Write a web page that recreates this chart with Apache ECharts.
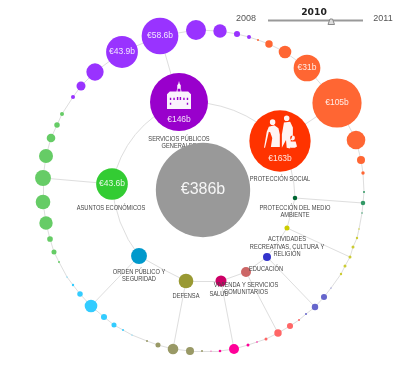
<!DOCTYPE html>
<html><head><meta charset="utf-8">
<style>html,body{margin:0;padding:0;background:#fff}#c{width:400px;height:370px}</style>
<script src="https://cdn.jsdelivr.net/npm/echarts@6/dist/echarts.min.js"></script>
</head><body><div id="c"></div>
<script>
// Outer ring, clockwise from the top-left: x, y on the chart's plane, and spending in € billions
const ringX = [160,196,220,237,249, 258,269,285,307,337,356,361,363, 364,363,362, 359,357,353,350,345,341, 331,324,315,306, 299,290,278,266, 257,248,234,220,211, 202,190,173,158,147, 132,123,114,104,91,80,73,67, 59,54,50,46,43,43,46,51,57,62, 73,81,95,122];
const ringY = [36,30,31,34,37, 40,44,52,68,103,140,160,173, 192,203,213, 229,238,247,257,266,274, 288,297,307,314, 320,326,333,339, 342,345,349,351,351, 351,351,349,345,341, 335,330,325,317,306,294,285,277, 262,252,239,223,202,178,156,138,125,114, 97,86,72,52];
const ringValues = [58.6,17.4,7.8,1.6,0.7, 0.17,2.4,6.9,31,105,15,2.8,0.5, 0.17,0.9,0.1, 0.1,0.25,0.4,0.4,0.4,0.25, 0.06,1.6,1.8,0.17, 0.17,1.6,2.4,0.4, 0.1,0.4,4.3,0.3,0.05, 0.17,2.8,4.9,1.1,0.17, 0.05,0.17,1.1,1.6,6.9,1.3,0.25,0.06, 0.17,1.1,1.4,7.8,9.3,11,8.5,3.2,1.3,0.7, 0.7,3.5,13,43.9];
const ringLabels = {0:'€58.6b',61:'€43.9b',8:'€31b',9:'€105b'};
const ringGroupSizes = [5,8,3,6,4,4,5,5,8,10,4];
const ringGroupColors = ['#9933ff','#ff6633','#339966','#cccc33','#6666cc','#ff6666','#ff0099','#999966','#33ccff','#66cc66','#9933ff'];

// Inner circle of categories
const innerNames = ['SERVICIOS PÚBLICOS\nGENERALES','PROTECCIÓN SOCIAL','PROTECCIÓN DEL MEDIO\nAMBIENTE','ACTIVIDADES\nRECREATIVAS, CULTURA Y\nRELIGIÓN','EDUCACIÓN','VIVIENDA Y SERVICIOS\nCOMUNITARIOS','SALUD','DEFENSA','ORDEN PÚBLICO Y\nSEGURIDAD','ASUNTOS ECONÓMICOS'];
const innerX = [179,280,295,287,267,246,221,186,139,112];
const innerY = [102,141,198,228,257,272,281,281,256,184];
const innerValues = [146,163,0.9,1.1,2.8,4.3,5.3,9.3,11,43.6];
const innerColors = ['#9900cc','#ff3300','#006633','#cccc00','#3333cc','#cc6666','#cc0066','#999933','#0099cc','#33cc33'];
const innerLabels = ['€146b','€163b','','','','','','','','€43.6b'];
// index of the ring bubble each category connects to
const innerRingLink = [0,9,14,19,24,28,32,37,44,53];
const labelX = [179,280,295,287,266,246,219,186,139,111];
const labelY = [142.5,179,211.5,246.5,269,288.5,294,296,275.5,208];

const totalName = 'TOTAL', totalX = 203, totalY = 190, totalValue = 386, totalLabel = '€386b';
const yearsLeft = '2008', yearCurrent = '2010', yearsRight = '2011';

const sizeOf = v => 4.8 * Math.sqrt(v);
const ringColorAt = i => { let n = 0; for (let g = 0; g < ringGroupSizes.length; g++) { n += ringGroupSizes[g]; if (i < n) return ringGroupColors[g]; } };

const nodes = [];
ringX.forEach((x,i) => nodes.push({value:[x,ringY[i]], symbolSize:sizeOf(ringValues[i]), itemStyle:{color:ringColorAt(i)},
  label:{show:!!ringLabels[i], formatter:ringLabels[i]||'', position:'inside', color:'rgba(255,255,255,.88)', fontSize:8.5, fontFamily:'Liberation Sans'}}));
const R = ringX.length;
innerX.forEach((x,i) => nodes.push({value:[x,innerY[i]], symbolSize:sizeOf(innerValues[i]), itemStyle:{color:innerColors[i]},
  label:{show:!!innerLabels[i], formatter:innerLabels[i], position:'inside', offset:[0,innerValues[i]>100?18:0], color:'rgba(255,255,255,.88)', fontSize:8.5, fontFamily:'Liberation Sans'}}));
const links = [];
const edge = (a,b) => links.push({source:a,target:b});
ringX.forEach((_,i) => edge(i,(i+1)%R));
innerRingLink.forEach((r,i) => edge(R+i,r));

// inner circle runs clockwise, from services round to economic affairs and back
const innerCurves = [0.22,0.12,0,0.03,0,0,0,0.02,0.15,0.25];
const innerArcs = innerX.map((x,i) => {
  const j = (i+1)%innerX.length;
  return {coords:[[x,innerY[i]],[innerX[j],innerY[j]]], lineStyle:{curveness:innerCurves[i]}};
});

const buildingPath = 'path://M36 0L38 8L41 12L41 20L43 30L62 30L70 38L70 80L2 80L2 38L10 30L29 30L31 20L31 12L34 8Z M10 48L10 54L14 54L14 48Z M20 48L20 54L24 54L24 48Z M30 46L30 54L34 54L34 46Z M38 46L38 54L42 54L42 46Z M48 48L48 54L52 54L52 48Z M58 48L58 54L62 54L62 48Z M10 62L10 68L14 68L14 62Z M58 62L58 68L62 68L62 62Z M32 22L32 30L40 30L40 22Z';
const familyPath = 'path://M17 25a8 8 0 1 0 16 0a8 8 0 1 0 -16 0Z M14 38L30 34L42 42L46 60L46 96L20 96L24 70L18 54L14 52L8 78L3 98L0 98L8 52Z M26 52L33 52L33 96L30 96Z M58 14a8 8 0 1 0 16 0a8 8 0 1 0 -16 0Z M58 26L76 24L84 40L84 60L78 76L76 100L66 98L64 76L52 98L52 60Z M76 70a7 7 0 1 0 14 0a7 7 0 1 0 -14 0Z M74 80L92 80L96 94L90 98L78 98L72 94Z';
const iconX = [179,280.5], iconY = [95,132], iconPaths = [buildingPath,familyPath], iconSizes = [[24,28],[33,33]];

const chart = echarts.init(document.getElementById('c'), null, {renderer:'canvas'});
chart.setOption({
  animation:false,
  backgroundColor:'#fff',
  grid:{left:0,right:0,top:0,bottom:0},
  xAxis:{type:'value',min:0,max:400,show:false},
  yAxis:{type:'value',min:0,max:370,inverse:true,show:false},
  series:[
    {type:'lines',coordinateSystem:'cartesian2d',z:1,silent:true,data:innerArcs,lineStyle:{color:'#dedede',width:1,opacity:1},effect:{show:false}},
    {type:'graph',coordinateSystem:'cartesian2d',layout:'none',silent:true,z:2,data:nodes,links:links,
      lineStyle:{color:'#dedede',width:1,opacity:1}},
    {type:'scatter',z:3,silent:true,data:iconX.map((x,i)=>({value:[x,iconY[i]],symbol:iconPaths[i],symbolSize:iconSizes[i],itemStyle:{color:'#fff',opacity:.95}}))},
    {type:'custom',z:3,silent:true,coordinateSystem:'cartesian2d',data:innerNames.map((n,i)=>[labelX[i],labelY[i],n]),
      renderItem:(p,api)=>{const c=api.coord([api.value(0),api.value(1)]);
        return {type:'text',x:c[0],y:c[1],scaleX:0.75,style:{text:innerNames[p.dataIndex],align:'center',verticalAlign:'middle',fill:'#444',font:'7.6px "Liberation Sans"',lineHeight:7.4}};}},
    {type:'scatter',z:5,silent:true,data:[{name:totalName,value:[totalX,totalY],symbolSize:sizeOf(totalValue),itemStyle:{color:'#999',opacity:1},
      label:{show:true,position:'inside',formatter:totalLabel,color:'rgba(255,255,255,.9)',fontSize:16,fontFamily:'Liberation Sans'}}]}
  ],
  graphic:[
    {type:'line',silent:true,shape:{x1:268,y1:20.5,x2:363,y2:20.5},style:{stroke:'#999',lineWidth:2}},
    {type:'polygon',silent:true,shape:{points:[[328,24.5],[334.5,24.5],[332.5,19],[330,19]]},style:{fill:'#ddd',stroke:'#888',lineWidth:1}},
    {type:'text',silent:true,x:246,y:19,style:{text:yearsLeft,align:'center',verticalAlign:'middle',fill:'#555',font:'9px "Liberation Sans"'}},
    {type:'text',silent:true,x:314,y:12.5,style:{text:yearCurrent,align:'center',verticalAlign:'middle',fill:'#222',font:'bold 9.2px "DejaVu Sans"'}},
    {type:'text',silent:true,x:383,y:19,style:{text:yearsRight,align:'center',verticalAlign:'middle',fill:'#555',font:'9px "Liberation Sans"'}}
  ]
});
</script></body></html>
